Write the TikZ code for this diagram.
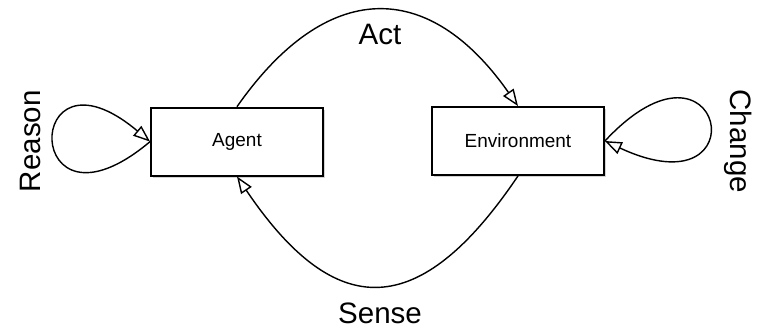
\documentclass[tikz,border=0pt]{standalone}
\usepackage{fontspec}
\setmainfont{Liberation Sans}
\usepackage{tikz}
\usetikzlibrary{arrows.meta, shadows}

\tikzset{
	state/.style={draw, line width=1.3pt, fill=white, minimum width=4.3cm, minimum height=1.7cm,
		drop shadow={shadow xshift=1.2pt, shadow yshift=-1.6pt, opacity=0.35},
		font=\fontsize{13.5}{16}\selectfont},
	flow/.style={line width=1pt, -{Triangle[open, length=12pt, width=9pt]}},
	tag/.style={font=\fontsize{21}{25}\selectfont}
}

\begin{document}
\begin{tikzpicture}

\useasboundingbox (0,0) rectangle (19,-8.225);

\node[state] (agent) at (5.925,-3.54) {Agent};
\node[state] (env) at (12.95,-3.525) {Environment};

\draw[flow] (agent.north) to[out=55, in=125, looseness=1.42] (env.north);
\draw[flow] (env.south) to[out=236, in=-56, looseness=1.6] (agent.south);

\draw[flow] (agent.west) to[out=220, in=140, min distance=4.2cm] (agent.west);
\draw[flow] (env.east) to[out=47, in=-25, min distance=4.35cm] (env.east);

\node[tag] (act) at (9.5,-0.85) {Act};
\node[tag] (sense) at (9.5,-7.83) {Sense};
\node[tag, rotate=90] (reason) at (0.75,-3.53) {Reason};
\node[tag, rotate=-90] (change) at (18.45,-3.53) {Change};

\end{tikzpicture}
\end{document}
